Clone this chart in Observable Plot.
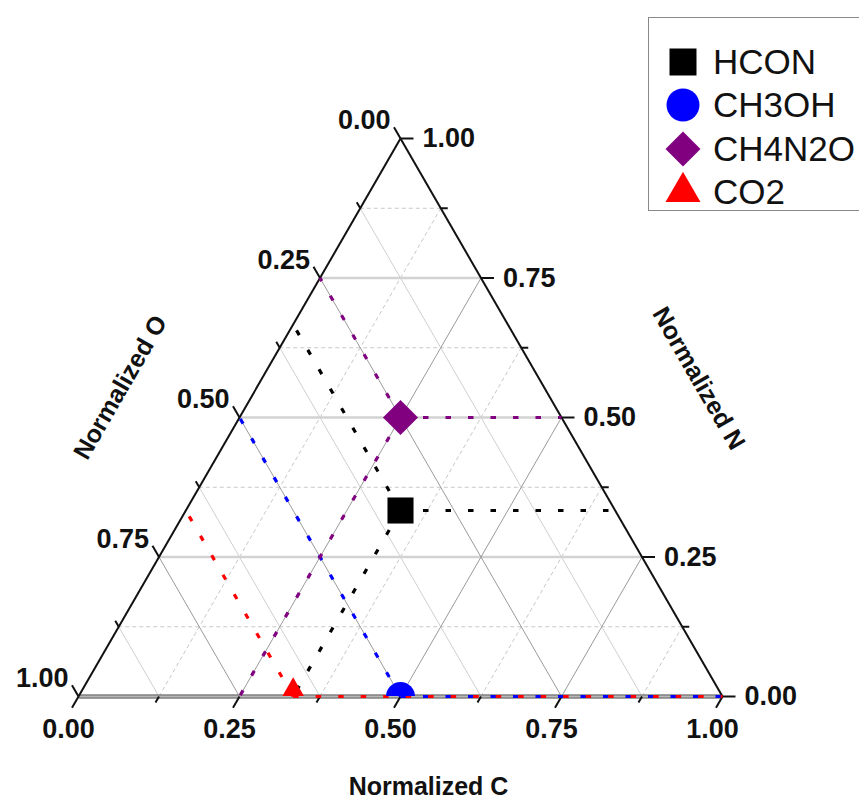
<!DOCTYPE html>
<html>
<head>
<meta charset="utf-8">
<script src="https://cdn.jsdelivr.net/npm/d3@7"></script>
<script src="https://cdn.jsdelivr.net/npm/@observablehq/plot@0.6"></script>
<style>
  body { margin: 0; background: #fff; font-family: "Liberation Sans", Arial, sans-serif; }
  #wrap { position: relative; width: 859px; height: 801px; overflow: hidden; }
  .legend { position: absolute; left: 648px; top: 17px; width: 240px; height: 194px;
            border: 1.5px solid #888; background: #fff; box-sizing: border-box; }
  .legend .row { position: absolute; left: 0; height: 44px; display: flex; align-items: center; }
  .legend svg { width: 40px; height: 40px; margin-left: 14px; }
  .legend span { font-size: 35px; color: #111; margin-left: 10px; }
</style>
</head>
<body>
<div id="wrap"></div>
<script>
// Compositions (normalized C, N, O fractions) of each compound
const compounds = ["HCON", "CH3OH", "CH4N2O", "CO2"];
const fracC = [1 / 3, 0.5, 0.25, 1 / 3];
const fracN = [1 / 3, 0, 0.5, 0];
const fracO = [1 / 3, 0.5, 0.25, 2 / 3];
const colors = ["black", "blue", "purple", "red"];
const symbolNames = ["square", "circle", "diamond2", "triangle"];
const markerRadius = [14.7, 14.5, 15.8, 12.3];

// Axis ticks
const tickValues = [0, 0.25, 0.5, 0.75, 1];
const tickLabels = ["0.00", "0.25", "0.50", "0.75", "1.00"];
const minorTicks = [0.125, 0.375, 0.625, 0.875];
const gridValues = [0.125, 0.25, 0.375, 0.5, 0.625, 0.75, 0.875];

const S = Math.sqrt(3) / 2;
const side = 644; // pixel length of one triangle side
// ternary (C, N) -> cartesian; O = 1 - C - N
const toXY = (c, n) => [c + n / 2, n * S];

// Grid: iso-lines of each component
function isoLine(comp, v) {
  if (comp === "N") return [toXY(1 - v, v), toXY(0, v)];
  if (comp === "C") return [toXY(v, 0), toXY(v, 1 - v)];
  return [toXY(1 - v, 0), toXY(0, 1 - v)]; // O
}
const grid = [];
for (const comp of ["N", "C", "O"]) {
  for (const v of gridValues) {
    const [[x1, y1], [x2, y2]] = isoLine(comp, v);
    grid.push({comp, major: v % 0.25 === 0, x1, y1, x2, y2});
  }
}

// Triangle edges
const edgeBottom = [{x1: 0, y1: 0, x2: 1, y2: 0}];
const edgeSides = [
  {x1: 0, y1: 0, x2: 0.5, y2: S},
  {x1: 1, y1: 0, x2: 0.5, y2: S}
];

// Tick marks on each side (C bottom, N right, O left)
const allTicks = [...tickValues.map(t => ({t, major: true})), ...minorTicks.map(t => ({t, major: false}))];
const tickMarks = [];
for (const {t, major} of allTicks) {
  const L = (major ? 13 : 7) / side;
  const [bx, by] = toXY(t, 0);
  tickMarks.push({x1: bx, y1: by, x2: bx - 0.5 * L, y2: by - S * L});
  const [rx, ry] = toXY(1 - t, t);
  tickMarks.push({x1: rx, y1: ry, x2: rx + L, y2: ry});
  const [lx, ly] = toXY(0, 1 - t);
  tickMarks.push({x1: lx, y1: ly, x2: lx - 0.5 * L, y2: ly + S * L});
}

const labelsC = tickValues.map((t, i) => { const [x, y] = toXY(t, 0); return {x, y, text: tickLabels[i]}; });
const labelsN = tickValues.map((t, i) => { const [x, y] = toXY(1 - t, t); return {x, y, text: tickLabels[i]}; });
const labelsO = tickValues.map((t, i) => { const [x, y] = toXY(0, 1 - t); return {x, y, text: tickLabels[i]}; });

// Compound markers and their projection lines onto the three axes
const points = compounds.map((name, i) => {
  const [x, y] = toXY(fracC[i], fracN[i]);
  return {name, x, y, r: markerRadius[i]};
});
const guides = [];
compounds.forEach((name, i) => {
  const c = fracC[i], n = fracN[i], o = fracO[i];
  const [x, y] = toXY(c, n);
  const ends = [toXY(1 - n, n), toXY(0, 1 - o), toXY(c, 0)];
  for (const [x2, y2] of ends) {
    if (Math.hypot(x2 - x, y2 - y) > 1e-9) guides.push({name, x1: x, y1: y, x2, y2});
  }
});

const titleFont = {fontSize: 25, fontWeight: "bold", fontFamily: "Liberation Sans, Arial, sans-serif", fill: "#111"};
const tickFont = {fontSize: 27, fontWeight: "bold", fontFamily: "Liberation Sans, Arial, sans-serif", fill: "#111"};

const chart = Plot.plot({
  width: 859,
  height: 801,
  marginLeft: 78,
  marginRight: 137,
  marginTop: 138,
  marginBottom: 105,
  x: {domain: [0, 1], axis: null},
  y: {domain: [0, S], axis: null},
  color: {domain: compounds, range: colors},
  symbol: {domain: compounds, range: symbolNames},
  r: {type: "identity"},
  style: {background: "white", overflow: "visible"},
  marks: [
    // minor grid
    Plot.link(grid.filter(d => !d.major && d.comp !== "O"), {x1: "x1", y1: "y1", x2: "x2", y2: "y2", stroke: "#c8c8c8", strokeWidth: 1, strokeDasharray: "4,3"}),
    Plot.link(grid.filter(d => !d.major && d.comp === "O"), {x1: "x1", y1: "y1", x2: "x2", y2: "y2", stroke: "#cfcfcf", strokeWidth: 1}),
    // major grid
    Plot.link(grid.filter(d => d.major && d.comp === "N"), {x1: "x1", y1: "y1", x2: "x2", y2: "y2", stroke: "#d2d2d2", strokeWidth: 2.5}),
    Plot.link(grid.filter(d => d.major && d.comp !== "N"), {x1: "x1", y1: "y1", x2: "x2", y2: "y2", stroke: "#9a9a9a", strokeWidth: 1}),
    // triangle frame
    Plot.link(edgeBottom, {x1: "x1", y1: "y1", x2: "x2", y2: "y2", stroke: "#808080", strokeWidth: 4.5}),
    Plot.link(edgeBottom, {x1: "x1", y1: "y1", x2: "x2", y2: "y2", stroke: "#b8b8b8", strokeWidth: 1.5}),
    Plot.link(edgeSides, {x1: "x1", y1: "y1", x2: "x2", y2: "y2", stroke: "#111", strokeWidth: 2}),
    Plot.link(tickMarks, {x1: "x1", y1: "y1", x2: "x2", y2: "y2", stroke: "#111", strokeWidth: 2}),
    // projection lines
    Plot.link(guides, {x1: "x1", y1: "y1", x2: "x2", y2: "y2", stroke: "name", strokeWidth: 3.2, strokeDasharray: "5.5,17"}),
    // markers (clipped to the plotting frame)
    Plot.dot(points, {x: "x", y: "y", fill: "name", symbol: "name", r: "r", stroke: "none", clip: true}),
    // tick labels
    Plot.text(labelsC, {x: "x", y: "y", text: "text", dx: -10, dy: 33, textAnchor: "middle", ...tickFont}),
    Plot.text(labelsN, {x: "x", y: "y", text: "text", dx: 22, dy: 0, textAnchor: "start", ...tickFont}),
    Plot.text(labelsO, {x: "x", y: "y", text: "text", dx: -10, dy: -18, textAnchor: "end", ...tickFont}),
    // axis titles
    Plot.text([{x: 0.5, y: 0, text: "Normalized C"}], {x: "x", y: "y", text: "text", dx: 28, dy: 90, ...titleFont}),
    Plot.text([{x: 0.25, y: S / 2, text: "Normalized O"}], {x: "x", y: "y", text: "text", dx: -119, dy: -30, rotate: -60, ...titleFont}),
    Plot.text([{x: 0.75, y: S / 2, text: "Normalized N"}], {x: "x", y: "y", text: "text", dx: 137, dy: -39, rotate: 60, ...titleFont})
  ]
});

const wrap = document.getElementById("wrap");
wrap.appendChild(chart);

// Legend
const legend = document.createElement("div");
legend.className = "legend";
const legendSymbols = [d3.symbolSquare, d3.symbolCircle, d3.symbolDiamond2, d3.symbolTriangle];
const legendSizes = [729, 855, 781, 530];
const rowTops = [22, 65, 109, 152];
compounds.forEach((name, i) => {
  const row = document.createElement("div");
  row.className = "row";
  row.style.top = rowTops[i] + "px";
  const path = d3.symbol().type(legendSymbols[i]).size(legendSizes[i])();
  row.innerHTML = `<svg viewBox="-20 -20 40 40"><path d="${path}" fill="${colors[i]}"></path></svg><span>${name}</span>`;
  legend.appendChild(row);
});
wrap.appendChild(legend);
</script>
</body>
</html>
